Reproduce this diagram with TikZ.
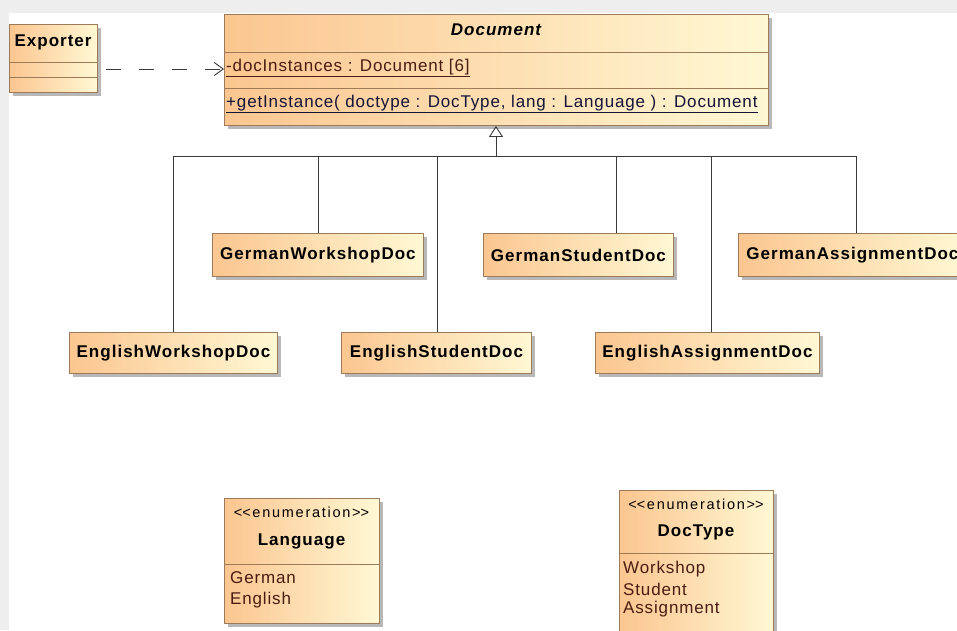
\documentclass[tikz,border=0pt]{standalone}
\usepackage{fontspec}
\setmainfont{Liberation Sans}
\newfontfamily\namefamily{Liberation Sans}[LetterSpace=6]
\newfontfamily\textfamily{Liberation Sans}[LetterSpace=5]
\newfontfamily\stereofamily{Liberation Sans}[LetterSpace=12]
\usetikzlibrary{shadows,arrows.meta}

\definecolor{canvasgray}{HTML}{EEEEEE}
\definecolor{peach}{HTML}{FBC690}
\definecolor{cream}{HTML}{FFF8D4}
\definecolor{boxline}{HTML}{9E7B58}
\definecolor{shadowgray}{HTML}{B8B8B8}
\definecolor{wire}{HTML}{3A3A3A}
\definecolor{attrtext}{HTML}{4A1C12}
\definecolor{optext}{HTML}{141438}

\tikzset{
  umlbox/.style={draw=boxline, line width=0.9pt, left color=peach, right color=cream,
    general shadow={fill=shadowgray, shadow xshift=4pt, shadow yshift=-4pt},
    inner sep=0pt, anchor=north west},
  namefont/.style={font=\namefamily\fontsize{17}{20}\selectfont\bfseries},
  plainfont/.style={font=\textfamily\fontsize{17}{20}\selectfont},
  smallfont/.style={font=\stereofamily\fontsize{14.5}{17}\selectfont},
  sep/.style={draw=boxline, line width=0.9pt},
  wireline/.style={draw=wire, line width=0.9pt},
  generalization/.style={wireline, -{Triangle[open, length=11pt, width=14pt]}},
  dependency/.style={wireline, dash pattern=on 15pt off 18pt, dash phase=25pt,
    -{Straight Barb[length=9pt, width=13pt]}},
}

\begin{document}
\begin{tikzpicture}[x=1pt, y=-1pt]
  % canvas
  \clip (0,0) rectangle (957,630);
  \fill[canvasgray] (0,0) rectangle (957,630);
  \fill[white] (9,13) rectangle (957,630);

  % Exporter class
  \node[umlbox, minimum width=88pt, minimum height=68pt] (exp) at (9,24) {};
  \node[namefont, anchor=west] (expname) at (11,42) {Exporter};
  \draw[sep] (exp.north west) ++(0,38) -- ++(88,0);
  \draw[sep] (exp.north west) ++(0,53) -- ++(88,0);

  % Document class
  \node[umlbox, minimum width=544pt, minimum height=111pt] (doc) at (224,14) {};
  \node[font=\namefamily\fontsize{17}{20}\selectfont\bfseries\itshape] (docname) at (496,30) {Document};
  \draw[sep] (doc.north west) ++(0,38) -- ++(544,0);
  \draw[sep] (doc.north west) ++(0,74) -- ++(544,0);
  \node[plainfont, text=attrtext, anchor=west, inner sep=0pt] (attr) at (226,68)
    {\underline{-docInstances : Document [6]}};
  \node[plainfont, text=optext, anchor=west, inner sep=0pt] (op) at (226,104)
    {\underline{+getInstance( doctype : DocType, lang : Language ) : Document}};

  % concrete documents
  \node[umlbox, namefont, minimum width=211pt, minimum height=43pt] (gwd) at (212,233) {GermanWorkshopDoc};
  \node[umlbox, namefont, minimum width=190pt, minimum height=43pt] (gsd) at (483,233) {GermanStudentDoc};
  \node[umlbox, namefont, minimum width=228pt, minimum height=43pt] (gad) at (738,233) {GermanAssignmentDoc};
  \node[umlbox, namefont, minimum width=208pt, minimum height=41pt] (ewd) at (69,332) {EnglishWorkshopDoc};
  \node[umlbox, namefont, minimum width=190pt, minimum height=41pt] (esd) at (341,332) {EnglishStudentDoc};
  \node[umlbox, namefont, minimum width=224pt, minimum height=41pt] (ead) at (595,332) {EnglishAssignmentDoc};

  % generalization tree
  \coordinate (hub) at (496,156);
  \coordinate (j1) at (173,156);
  \coordinate (j2) at (318,156);
  \coordinate (j3) at (437,156);
  \coordinate (j4) at (616,156);
  \coordinate (j5) at (711,156);
  \coordinate (j6) at (856,156);
  \draw[wireline] (j1) -- (j6);
  \draw[generalization] (hub) -- (doc.south -| hub);
  \draw[wireline] (j1) -- (ewd.north -| j1);
  \draw[wireline] (j2) -- (gwd.north -| j2);
  \draw[wireline] (j3) -- (esd.north -| j3);
  \draw[wireline] (j4) -- (gsd.north -| j4);
  \draw[wireline] (j5) -- (ead.north -| j5);
  \draw[wireline] (j6) -- (gad.north -| j6);

  % dependency Exporter -> Document
  \coordinate (deprow) at (0,69);
  \draw[dependency] (exp.east |- deprow) -- (doc.west |- deprow);

  % Language enumeration
  \node[umlbox, minimum width=155pt, minimum height=125pt] (lang) at (224,498) {};
  \node[smallfont] (langst) at (301.5,512) {<\kern0pt<enumeration>\kern0pt>};
  \node[namefont] (langname) at (301.5,541) {Language};
  \draw[sep] (lang.north west) ++(0,66) -- ++(155,0);
  \node[plainfont, text=attrtext, anchor=west, inner sep=0pt] (lg1) at (230,578) {German};
  \node[plainfont, text=attrtext, anchor=west, inner sep=0pt] (lg2) at (230,600) {English};

  % DocType enumeration
  \node[umlbox, minimum width=154pt, minimum height=150pt] (dt) at (619,490) {};
  \node[smallfont] (dtst) at (696,504) {<\kern0pt<enumeration>\kern0pt>};
  \node[namefont] (dtname) at (696,532) {DocType};
  \draw[sep] (dt.north west) ++(0,63) -- ++(154,0);
  \node[plainfont, text=attrtext, anchor=west, inner sep=0pt] (dt1) at (623,569) {Workshop};
  \node[plainfont, text=attrtext, anchor=west, inner sep=0pt] (dt2) at (623,589) {Student};
  \node[plainfont, text=attrtext, anchor=west, inner sep=0pt] (dt3) at (623,609) {Assignment};
\end{tikzpicture}
\end{document}
